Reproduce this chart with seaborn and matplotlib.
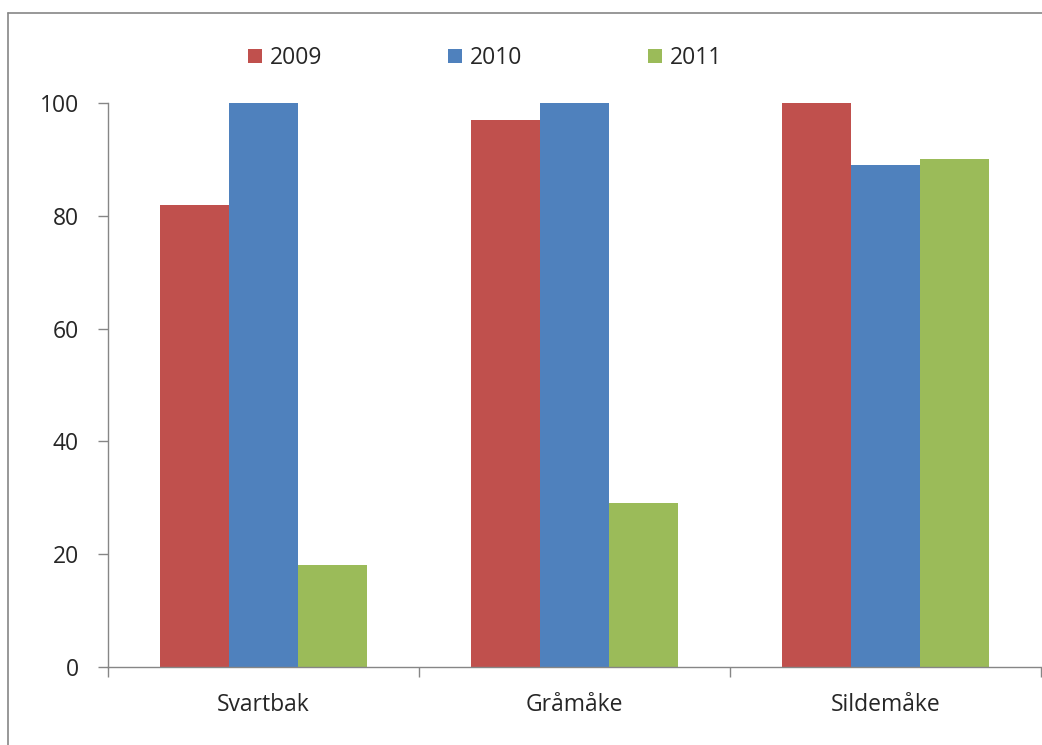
import matplotlib.pyplot as plt
import matplotlib.lines as mlines
import pandas as pd
import seaborn as sns

# data
species = ['Svartbak', 'Gråmåke', 'Sildemåke']
years = ['2009', '2010', '2011']
v2009 = [82, 97, 100]
v2010 = [100, 100, 89]
v2011 = [18, 29, 90]

colors = ['#C0504D', '#4F81BD', '#9BBB59']

df = pd.DataFrame({
    'art': species * 3,
    'aar': [y for y in years for _ in species],
    'verdi': v2009 + v2010 + v2011,
})

sns.set_style('white')
plt.rcParams['font.family'] = ['Open Sans', 'DejaVu Sans']

fig = plt.figure(figsize=(10.42, 7.45), dpi=100)
ax = fig.add_axes([108 / 1042, 1 - 667 / 745, (1041 - 108) / 1042, (667 - 103) / 745])

sns.barplot(data=df, x='art', y='verdi', hue='aar', palette=colors,
            width=0.666, saturation=1, ax=ax, linewidth=0)

ax.set_xlim(-0.5, 2.5)
ax.set_ylim(0, 100)
ax.set_yticks([0, 20, 40, 60, 80, 100])
ax.set_xlabel('')
ax.set_ylabel('')

grey = '#868686'
for s in ['top', 'right']:
    ax.spines[s].set_visible(False)
for s in ['left', 'bottom']:
    ax.spines[s].set_color(grey)
    ax.spines[s].set_linewidth(1.0)

ax.tick_params(axis='y', which='major', length=7, width=1.0, color=grey,
               labelsize=16.5, pad=14, direction='out', left=True)
ax.tick_params(axis='x', which='major', length=0, labelsize=16.5, pad=19)
ax.set_xticks([-0.5, 0.5, 1.5, 2.5], minor=True)
ax.tick_params(axis='x', which='minor', length=7, width=1.0, color=grey,
               direction='out', bottom=True)

leg = ax.legend(loc='center left', bbox_to_anchor=(0.140, 1.080), ncol=3,
                frameon=False, fontsize=16.5, handlelength=0.6, handleheight=0.6,
                handletextpad=0.35, columnspacing=5.5, borderaxespad=0)

# outer chart border (top and left visible)
fig.add_artist(mlines.Line2D([8 / 1042, 8 / 1042], [0, 1 - 13 / 745],
                             transform=fig.transFigure, color=grey, lw=1.2))
fig.add_artist(mlines.Line2D([8 / 1042, 1], [1 - 13 / 745, 1 - 13 / 745],
                             transform=fig.transFigure, color=grey, lw=1.2))

fig.savefig('out.png', dpi=100)
